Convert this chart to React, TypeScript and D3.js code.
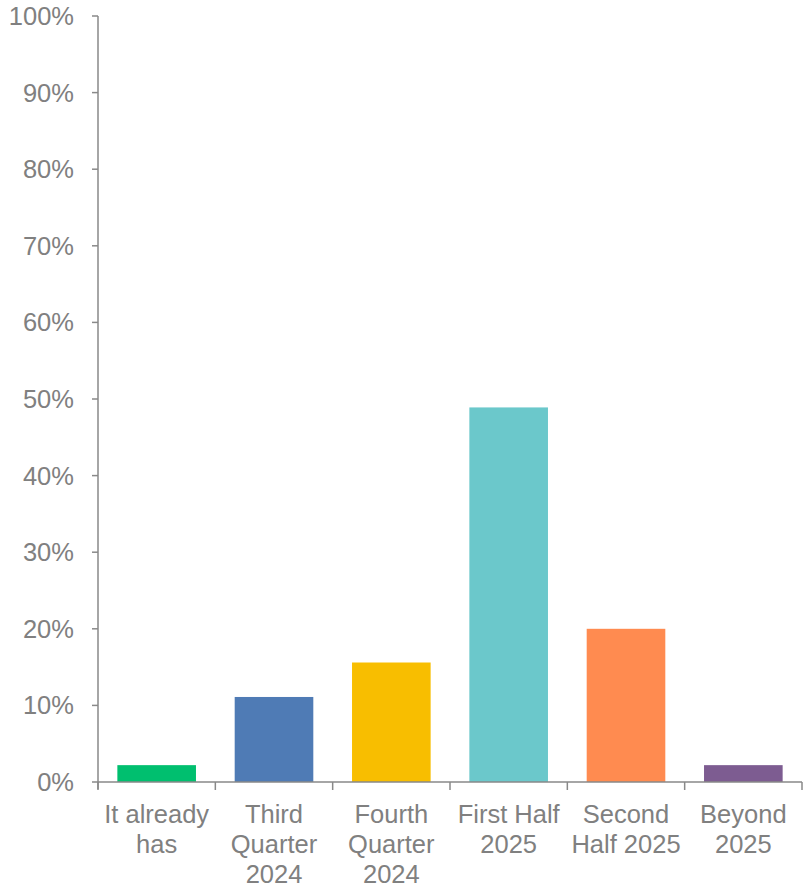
import React from "react";
import * as d3 from "d3";

const categories: string[][] = [
  ["It already", "has"],
  ["Third", "Quarter", "2024"],
  ["Fourth", "Quarter", "2024"],
  ["First Half", "2025"],
  ["Second", "Half 2025"],
  ["Beyond", "2025"],
];
const values = [2.2, 11.1, 15.6, 48.9, 20.0, 2.2];
const colors = ["#00BF6F", "#4F7BB5", "#F8BE00", "#6BC8CB", "#FF8B50", "#7D5C91"];
const yTicks = [0, 10, 20, 30, 40, 50, 60, 70, 80, 90, 100];

const W = 807;
const H = 889;
const left = 98;
const right = 802;
const top = 16;
const bottom = 782;

export default function App() {
  const x = d3
    .scaleBand<number>()
    .domain(d3.range(values.length))
    .range([left, right])
    .paddingInner(0.33)
    .paddingOuter(0.165);
  const y = d3.scaleLinear().domain([0, 100]).range([bottom, top]);
  const step = (right - left) / values.length;
  const axisColor = "#898989";
  const textColor = "#808080";
  const font = "'Liberation Sans', Arial, sans-serif";
  const fs = 25.5;

  return (
    <svg
      width={W}
      height={H}
      style={{ position: "absolute", left: 0, top: 0 }}
      fontFamily={font}
    >
      {values.map((v, i) => (
        <rect
          key={i}
          x={x(i)}
          y={y(v)}
          width={x.bandwidth()}
          height={y(0) - y(v)}
          fill={colors[i]}
        />
      ))}
      {/* y axis */}
      <line x1={left} x2={left} y1={top} y2={bottom + 7} stroke={axisColor} strokeWidth={1.5} />
      {yTicks.map((t) => (
        <g key={t}>
          <line x1={left - 6} x2={left} y1={y(t)} y2={y(t)} stroke={axisColor} strokeWidth={1.5} />
          <text
            x={74}
            y={y(t)}
            dy="0.35em"
            textAnchor="end"
            fontSize={fs}
            fill={textColor}
          >
            {t}%
          </text>
        </g>
      ))}
      {/* x axis */}
      <line x1={left} x2={right} y1={bottom} y2={bottom} stroke={axisColor} strokeWidth={1.5} />
      {d3.range(values.length + 1).map((i) => (
        <line
          key={i}
          x1={left + i * step}
          x2={left + i * step}
          y1={bottom}
          y2={bottom + 8}
          stroke={axisColor}
          strokeWidth={1.5}
        />
      ))}
      {categories.map((lines, i) => (
        <text
          key={i}
          textAnchor="middle"
          fontSize={fs}
          fill={textColor}
        >
          {lines.map((l, j) => (
            <tspan key={j} x={(x(i) as number) + x.bandwidth() / 2} y={823 + j * 30}>
              {l}
            </tspan>
          ))}
        </text>
      ))}
    </svg>
  );
}
